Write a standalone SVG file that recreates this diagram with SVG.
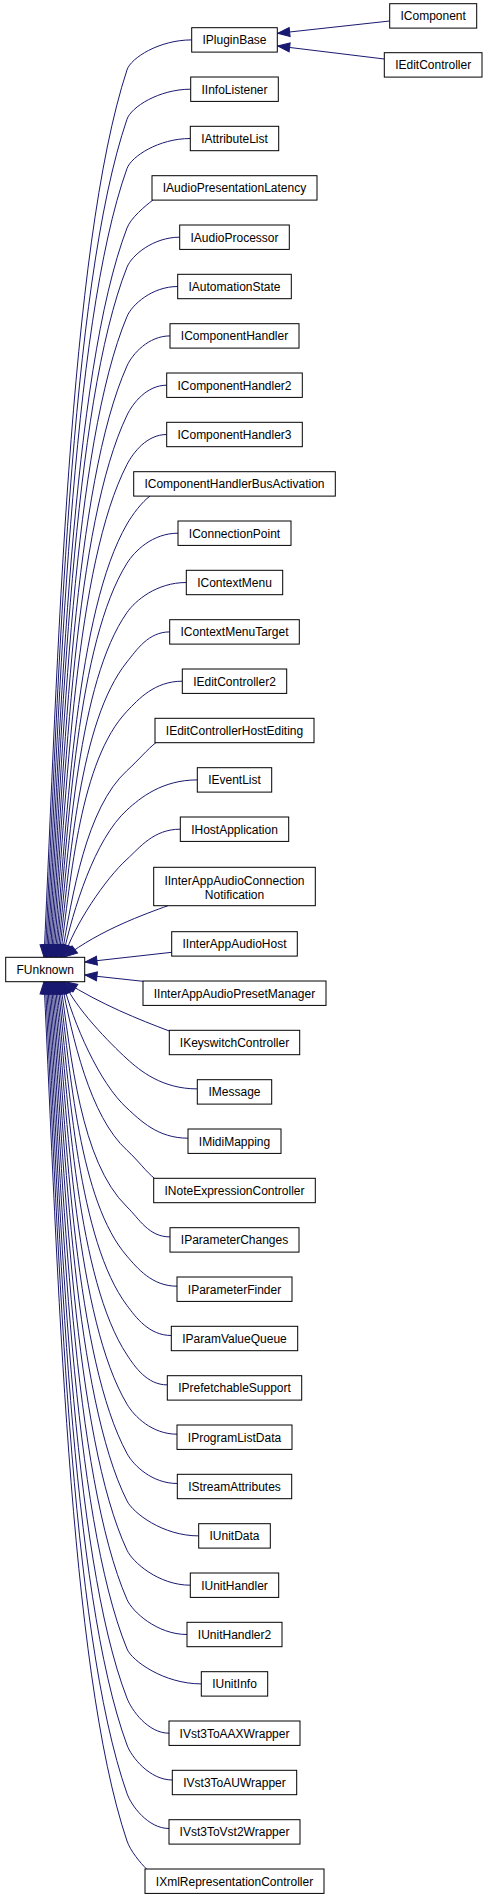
<svg xmlns="http://www.w3.org/2000/svg" width="488" height="1900" viewBox="0 0 488 1900">
<style>
.node rect{fill:#fff;stroke:#000;stroke-width:1}
.node text{font-family:"Liberation Sans",Arial,Helvetica,sans-serif;font-size:12px;text-anchor:middle;fill:#000}
.edge{fill:none;stroke:#191970;stroke-width:1;marker-end:url(#ah)}
</style>
<defs>
<marker id="ah" markerUnits="userSpaceOnUse" markerWidth="14" markerHeight="12" refX="12" refY="5" orient="auto" overflow="visible">
<path d="M0,0.5 L12,5 L0,9.5 Z" fill="#191970" stroke="#191970" stroke-width="1"/>
</marker>
</defs>
<rect width="488" height="1900" fill="#fff"/>
<g id="edges">
<path class="edge" d="M389.7,21 L277.7,33.3"/>
<path class="edge" d="M384.3,59 L277.7,46"/>
<path class="edge" d="M191.7,39.9 C159.3,39.9 130.9,57.9 127,69.9 C68.8,247.3 57.7,664.3 44,957"/>
<path class="edge" d="M190.7,89.2 C158.9,89.2 131.1,107.2 127,119.2 C69.7,286.8 58.7,680.5 45.25,957"/>
<path class="edge" d="M190.3,138.5 C158.7,138.5 131.3,156.5 127,168.5 C70.7,326.2 59.8,696.8 46.5,957"/>
<path class="edge" d="M153,200 C145,206 130.8,218 127,228 C71.6,373.8 60.75,716.4 47.75,957"/>
<path class="edge" d="M179.7,237.2 C153.35,237.2 131.8,255.2 127,267.2 C72.4,405.2 61.9,729.4 49,957"/>
<path class="edge" d="M177.7,286.5 C152.35,286.5 132,304.5 127,316.5 C73.3,444.6 62.95,745.6 50.25,957"/>
<path class="edge" d="M170,335.9 C148.5,335.9 132.4,353.9 127,365.9 C74.2,484.1 64,761.9 51.5,957"/>
<path class="edge" d="M166.7,385.2 C146.85,385.2 132.8,403.2 127,415.2 C75,523.6 64.95,778.2 52.75,957"/>
<path class="edge" d="M166.7,434.5 C146.85,434.5 133.2,452.5 127,464.5 C75.9,563 66,794.5 54,957"/>
<path class="edge" d="M150,496 C142,502 132.8,514 127,524 C76.8,610.6 67.15,814.1 55.25,957"/>
<path class="edge" d="M178,533.2 C152.5,533.2 134.5,551.2 127,563.2 C77.6,642 68.1,827 56.5,957"/>
<path class="edge" d="M186.3,582.5 C156.65,582.5 135.4,600.5 127,612.5 C78.5,681.4 69.15,843.3 57.75,957"/>
<path class="edge" d="M169.7,631.9 C148.35,631.9 136.7,649.9 127,661.9 C79.4,720.9 70.2,859.6 59,957"/>
<path class="edge" d="M182.3,681.2 C154.65,681.2 138.4,699.2 127,711.2 C80.3,760.4 71.25,875.9 60.25,957"/>
<path class="edge" d="M156,742.6 C148,748.6 138,760.6 127,770.6 C86,807.9 72.3,895.5 61.5,957"/>
<path class="edge" d="M197.3,779.9 C162.15,779.9 140.2,797.9 127,809.9 C94.7,839.3 73.35,908.5 62.75,957"/>
<path class="edge" d="M180.3,829.2 C153.65,829.2 140.2,847.2 127,859.2 C105.4,878.8 74.4,924.7 64,957"/>
<path class="edge" d="M168,905.7 C145,914 100,930 65.25,956.7"/>
<path class="edge" d="M171.7,952.3 L85,962"/>
<path class="edge" d="M143,981.3 L85,975"/>
<path class="edge" d="M169.3,1031 C140,1020 100,1004 65.25,981.7"/>
<path class="edge" d="M197.3,1088.9 C162.15,1088.9 140.2,1070.9 127,1058.9 C110.1,1043.5 74.4,1007.2 64,981.7"/>
<path class="edge" d="M188,1138.2 C157.5,1138.2 140.2,1120.2 127,1108.2 C99.2,1082.9 73.35,1023.4 62.75,981.7"/>
<path class="edge" d="M154.5,1178.3 C146.5,1172.3 138,1160.3 127,1150.3 C89.9,1116.6 72.3,1037.3 61.5,981.7"/>
<path class="edge" d="M170,1236.9 C148.5,1236.9 139.4,1218.9 127,1206.9 C80.3,1161.9 71.25,1056 60.25,981.7"/>
<path class="edge" d="M177,1286.2 C152,1286.2 137.4,1268.2 127,1256.2 C79.4,1201.3 70.2,1072.3 59,981.7"/>
<path class="edge" d="M171.3,1335.5 C149.15,1335.5 136,1317.5 127,1305.5 C78.5,1240.7 69.15,1088.6 57.75,981.7"/>
<path class="edge" d="M167.3,1384.9 C147.15,1384.9 134.9,1366.9 127,1354.9 C77.7,1280.3 68.1,1104.9 56.5,981.7"/>
<path class="edge" d="M177,1434.2 C152,1434.2 134.1,1416.2 127,1404.2 C76.8,1319.7 67.05,1121.1 55.25,981.7"/>
<path class="edge" d="M177.3,1483.5 C152.15,1483.5 133.5,1465.5 127,1453.5 C75.8,1359.1 66,1137.4 54,981.7"/>
<path class="edge" d="M198.7,1535.9 C162.85,1535.9 133,1512.9 127,1500.9 C75.1,1397.1 64.95,1153 52.75,981.7"/>
<path class="edge" d="M190.3,1585.2 C158.65,1585.2 132.6,1562.2 127,1550.2 C74.1,1436.5 64,1169.3 51.5,981.7"/>
<path class="edge" d="M187,1634.5 C157,1634.5 132.2,1611.5 127,1599.5 C73.2,1475.9 62.95,1185.6 50.25,981.7"/>
<path class="edge" d="M201.3,1683.9 C164.15,1683.9 131.9,1660.9 127,1648.9 C72.4,1515.5 61.9,1201.9 49,981.7"/>
<path class="edge" d="M169,1733.2 C148,1733.2 131.6,1710.2 127,1698.2 C71.5,1554.9 60.85,1218.1 47.75,981.7"/>
<path class="edge" d="M172.3,1780 C149.65,1780 131.4,1757 127,1745 C70.7,1592.3 59.8,1233.6 46.5,981.7"/>
<path class="edge" d="M169,1828.5 C148,1828.5 131.2,1805.5 127,1793.5 C69.8,1631.1 58.75,1249.6 45.25,981.7"/>
<path class="edge" d="M146.5,1869 C140.5,1863 130.4,1851 127,1841 C68.9,1669.1 57.7,1265.3 44,981.7"/>
</g>
<g id="FUnknown" class="node"><rect x="5.7" y="957.3" width="79" height="24.4"/><text x="45.2" y="974">FUnknown</text></g>
<g id="IComponent" class="node"><rect x="389.7" y="3.7" width="87" height="24.4"/><text x="433.2" y="20.4">IComponent</text></g>
<g id="IEditController" class="node"><rect x="384.3" y="52.7" width="97.7" height="24.4"/><text x="433.2" y="69.4">IEditController</text></g>
<g id="IPluginBase" class="node"><rect x="191.7" y="27.7" width="85.6" height="24.4"/><text x="234.5" y="44.4">IPluginBase</text></g>
<g id="IInfoListener" class="node"><rect x="190.7" y="77" width="87.6" height="24.4"/><text x="234.5" y="93.7">IInfoListener</text></g>
<g id="IAttributeList" class="node"><rect x="190.3" y="126.3" width="88.4" height="24.4"/><text x="234.5" y="143">IAttributeList</text></g>
<g id="IAudioPresentationLatency" class="node"><rect x="152" y="175.7" width="165" height="24.4"/><text x="234.5" y="192.4">IAudioPresentationLatency</text></g>
<g id="IAudioProcessor" class="node"><rect x="179.7" y="225" width="109.6" height="24.4"/><text x="234.5" y="241.7">IAudioProcessor</text></g>
<g id="IAutomationState" class="node"><rect x="177.7" y="274.3" width="113.6" height="24.4"/><text x="234.5" y="291">IAutomationState</text></g>
<g id="IComponentHandler" class="node"><rect x="170" y="323.7" width="129" height="24.4"/><text x="234.5" y="340.4">IComponentHandler</text></g>
<g id="IComponentHandler2" class="node"><rect x="166.7" y="373" width="135.6" height="24.4"/><text x="234.5" y="389.7">IComponentHandler2</text></g>
<g id="IComponentHandler3" class="node"><rect x="166.7" y="422.3" width="135.6" height="24.4"/><text x="234.5" y="439">IComponentHandler3</text></g>
<g id="IComponentHandlerBusActivation" class="node"><rect x="133.7" y="471.7" width="201.6" height="24.4"/><text x="234.5" y="488.4">IComponentHandlerBusActivation</text></g>
<g id="IConnectionPoint" class="node"><rect x="178" y="521" width="113" height="24.4"/><text x="234.5" y="537.7">IConnectionPoint</text></g>
<g id="IContextMenu" class="node"><rect x="186.3" y="570.3" width="96.4" height="24.4"/><text x="234.5" y="587">IContextMenu</text></g>
<g id="IContextMenuTarget" class="node"><rect x="169.7" y="619.7" width="129.6" height="24.4"/><text x="234.5" y="636.4">IContextMenuTarget</text></g>
<g id="IEditController2" class="node"><rect x="182.3" y="669" width="104.4" height="24.4"/><text x="234.5" y="685.7">IEditController2</text></g>
<g id="IEditControllerHostEditing" class="node"><rect x="155" y="718.3" width="159" height="24.4"/><text x="234.5" y="735">IEditControllerHostEditing</text></g>
<g id="IEventList" class="node"><rect x="197.3" y="767.7" width="74.4" height="24.4"/><text x="234.5" y="784.4">IEventList</text></g>
<g id="IHostApplication" class="node"><rect x="180.3" y="817" width="108.4" height="24.4"/><text x="234.5" y="833.7">IHostApplication</text></g>
<g id="IInterAppAudioConnectionNotification" class="node"><rect x="153.7" y="867.3" width="161.6" height="38.4"/><text x="234.5" y="884.7">IInterAppAudioConnection</text><text x="234.5" y="898.5">Notification</text></g>
<g id="IInterAppAudioHost" class="node"><rect x="171.7" y="931.7" width="125.6" height="24.4"/><text x="234.5" y="948.4">IInterAppAudioHost</text></g>
<g id="IInterAppAudioPresetManager" class="node"><rect x="143" y="981" width="183" height="24.4"/><text x="234.5" y="997.7">IInterAppAudioPresetManager</text></g>
<g id="IKeyswitchController" class="node"><rect x="169.3" y="1030.3" width="130.4" height="24.4"/><text x="234.5" y="1047">IKeyswitchController</text></g>
<g id="IMessage" class="node"><rect x="197.3" y="1079.7" width="74.4" height="24.4"/><text x="234.5" y="1096.4">IMessage</text></g>
<g id="IMidiMapping" class="node"><rect x="188" y="1129" width="93" height="24.4"/><text x="234.5" y="1145.7">IMidiMapping</text></g>
<g id="INoteExpressionController" class="node"><rect x="153.7" y="1178.3" width="161.6" height="24.4"/><text x="234.5" y="1195">INoteExpressionController</text></g>
<g id="IParameterChanges" class="node"><rect x="170" y="1227.7" width="129" height="24.4"/><text x="234.5" y="1244.4">IParameterChanges</text></g>
<g id="IParameterFinder" class="node"><rect x="177" y="1277" width="115" height="24.4"/><text x="234.5" y="1293.7">IParameterFinder</text></g>
<g id="IParamValueQueue" class="node"><rect x="171.3" y="1326.3" width="126.4" height="24.4"/><text x="234.5" y="1343">IParamValueQueue</text></g>
<g id="IPrefetchableSupport" class="node"><rect x="167.3" y="1375.7" width="134.4" height="24.4"/><text x="234.5" y="1392.4">IPrefetchableSupport</text></g>
<g id="IProgramListData" class="node"><rect x="177" y="1425" width="115" height="24.4"/><text x="234.5" y="1441.7">IProgramListData</text></g>
<g id="IStreamAttributes" class="node"><rect x="177.3" y="1474.3" width="114.4" height="24.4"/><text x="234.5" y="1491">IStreamAttributes</text></g>
<g id="IUnitData" class="node"><rect x="198.7" y="1523.7" width="71.6" height="24.4"/><text x="234.5" y="1540.4">IUnitData</text></g>
<g id="IUnitHandler" class="node"><rect x="190.3" y="1573" width="88.4" height="24.4"/><text x="234.5" y="1589.7">IUnitHandler</text></g>
<g id="IUnitHandler2" class="node"><rect x="187" y="1622.3" width="95" height="24.4"/><text x="234.5" y="1639">IUnitHandler2</text></g>
<g id="IUnitInfo" class="node"><rect x="201.3" y="1671.7" width="66.4" height="24.4"/><text x="234.5" y="1688.4">IUnitInfo</text></g>
<g id="IVst3ToAAXWrapper" class="node"><rect x="169" y="1721" width="131" height="24.4"/><text x="234.5" y="1737.7">IVst3ToAAXWrapper</text></g>
<g id="IVst3ToAUWrapper" class="node"><rect x="172.3" y="1770.3" width="124.4" height="24.4"/><text x="234.5" y="1787">IVst3ToAUWrapper</text></g>
<g id="IVst3ToVst2Wrapper" class="node"><rect x="169" y="1819.7" width="131" height="24.4"/><text x="234.5" y="1836.4">IVst3ToVst2Wrapper</text></g>
<g id="IXmlRepresentationController" class="node"><rect x="145" y="1869" width="179" height="24.4"/><text x="234.5" y="1885.7">IXmlRepresentationController</text></g>
</svg>
